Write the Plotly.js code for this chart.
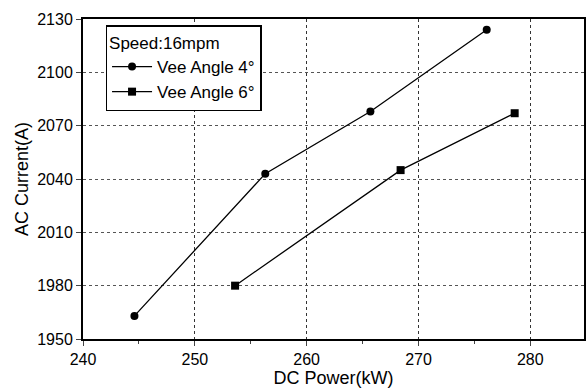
<!DOCTYPE html>
<html><head><meta charset="utf-8">
<script src="https://cdn.plot.ly/plotly-3.0.1.min.js"></script>
<style>html,body{margin:0;padding:0;background:#fff}</style>
</head><body><div id="chart" style="width:586px;height:392px"></div>
<script>
const power4 = [244.6, 256.3, 265.7, 276.1];
const current4 = [1963, 2043, 2078, 2124];
const power6 = [253.6, 268.4, 278.6];
const current6 = [1980, 2045, 2077];
const seriesNames = ['Vee Angle 4°', 'Vee Angle 6°'];
const legendTitle = 'Speed:16mpm';
const xTicks = [240, 250, 260, 270, 280];
const yTicks = [1950, 1980, 2010, 2040, 2070, 2100, 2130];

const font = {family: 'Arial', color: '#000'};
const f = s => Object.assign({size: s}, font);
const traces = [
  {x: power4, y: current4, name: seriesNames[0], mode: 'lines+markers',
   line: {color: '#000', width: 1.3}, marker: {symbol: 'circle', size: 8, color: '#000'}},
  {x: power6, y: current6, name: seriesNames[1], mode: 'lines+markers',
   line: {color: '#000', width: 1.3}, marker: {symbol: 'square', size: 8, color: '#000'}}
];
const layout = {
  width: 586, height: 392,
  margin: {l: 83, r: 2, t: 19, b: 53},
  paper_bgcolor: '#fff', plot_bgcolor: '#fff',
  font: f(16),
  showlegend: true,
  legend: {x: 0.045, y: 0.98, xanchor: 'left', yanchor: 'top',
    bgcolor: '#fff', bordercolor: '#000', borderwidth: 1.5,
    title: {text: legendTitle, font: f(17)},
    font: f(17), tracegroupgap: 0, itemwidth: 40},
  xaxis: {range: [240, 284.8], tickvals: xTicks, ticks: 'outside', ticklen: 5,
    showline: true, linecolor: '#000', linewidth: 2, mirror: true,
    showgrid: true, gridcolor: '#333', griddash: 'dot', gridwidth: 1,
    zeroline: false, tickfont: f(16),
    title: {text: 'DC Power(kW)', font: f(18), standoff: 2},
    minor: {tickvals: [245, 255, 265, 275], ticks: 'outside', ticklen: 3, showgrid: false}},
  yaxis: {range: [1950, 2130], tickvals: yTicks, ticks: 'outside', ticklen: 5,
    showline: true, linecolor: '#000', linewidth: 2, mirror: true,
    showgrid: true, gridcolor: '#555', griddash: 'dot', gridwidth: 1,
    zeroline: false, tickfont: f(16),
    title: {text: 'AC Current(A)', font: f(18), standoff: 4}}
};
Plotly.newPlot('chart', traces, layout, {displayModeBar: false, staticPlot: true});
</script></body></html>
